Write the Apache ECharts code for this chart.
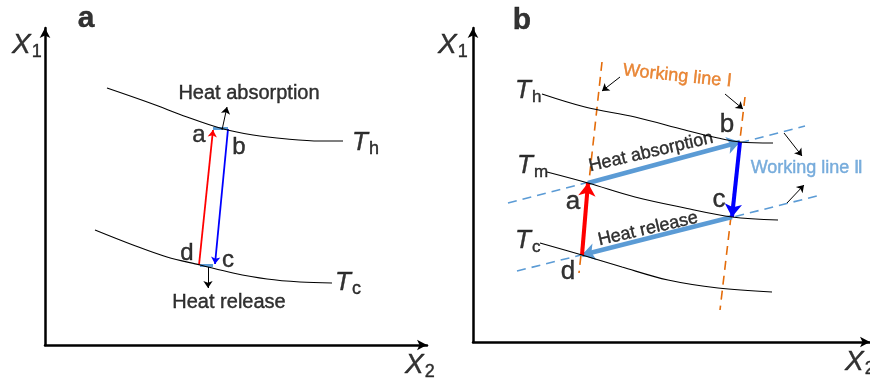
<!DOCTYPE html>
<html><head><meta charset="utf-8">
<script src="https://cdn.jsdelivr.net/npm/echarts@6/dist/echarts.min.js"></script>
<style>html,body{margin:0;padding:0;background:#fff}#c{width:870px;height:382px}</style>
</head><body><div id="c"></div>
<script>
// ---------- Panel a (coordinates in diagram units: [X2, X1]) ----------
const aThCurve = [[62,257],[105,242],[142,228],[175,217],[208,210],[242,206],[275,204],[298,204]];
const aTcCurve = [[50,115],[88,100],[122,88],[155,80],[188,72],[222,66],[255,63],[287,62]];
const aRedArrow = [[154,80],[168,215]];          // d -> a
const aBlueArrow = [[183,216],[170,81]];         // b -> c
const aHeatSegs = [[[168,217],[183,217]], [[168,80],[155,80]]];
const aSmallArrows = [[[177,215],[182,238]], [[163,78],[163,57]]];
const aLabels = [['Heat absorption',204,252],['Heat release',184,43]];
const aPoints = [['a',154,210],['b',194,198],['c',183,85],['d',142,92]];
const aTemps = [['h',307,201],['c',290,61]];
const aPanel = ['a',41,326];
const aAxisNames = [['1',-33,299],['2',360,-21]];

// ---------- Panel b ----------
const bThCurve = [[69,248],[112,235],[162,225],[212,212],[245,204],[267,200],[300,199]];
const bTmCurve = [[74,170],[115,159],[162,145],[212,134],[259,125],[305,122]];
const bTcCurve = [[67,99],[109,87],[149,75],[195,62],[245,54],[299,50]];
const bWorkI = [[[129,280],[106,69]], [[272,245],[247,32]]];
const bWorkII = [[[44,71],[344,146]], [[35,139],[332,216]]];
const bAbsorb = [[115,159],[267,200]];   // a -> b
const bRelease = [[259,125],[109,87]];   // c -> d
const bRed = [[109,87],[115,159]];       // d -> a
const bBlue = [[267,200],[259,125]];     // b -> c
const bSmallArrows = [[[147,265],[129,251]], [[252,248],[270,233]], [[311,209],[329,186]], [[314,139],[331,157]]];
const bLabels = [['Heat absorption',178,190,13],['Heat release',175,113,13]];
const bWorkLabels = [['Working line Ⅰ',204,266,-6],['Working line Ⅱ',334,174,0]];
const bPoints = [['a',100,140],['b',254,217],['c',246,142],['d',95,70]];
const bTemps = [['h',42,250],['m',44,175],['c',42,100]];
const bPanel = ['b',49,321];
const bAxisNames = [['1',-35,296],['2',372,-21]];

const FONT = '"Liberation Sans", Arial, sans-serif';
const LBLUE = '#5B9BD5', ORANGE = '#E46C0A';

function axesFor(i, w, h) {
  const ax = (max) => ({
    type:'value', gridIndex:i, min:0, max:max,
    axisLine:{show:true, onZero:false, symbol:['none','arrow'], symbolSize:[8,10], lineStyle:{color:'#000', width:2.5}},
    axisTick:{show:false}, axisLabel:{show:false}, splitLine:{show:false}
  });
  return {x: ax(w), y: ax(h)};
}
function curve(i, data) {
  return {type:'line', xAxisIndex:i, yAxisIndex:i, data:data, smooth:0.35, showSymbol:false, silent:true,
    lineStyle:{color:'#000', width:1.1}};
}
function segs(i, list, color, width, arrow, asize, dashed) {
  return {type:'lines', coordinateSystem:'cartesian2d', xAxisIndex:i, yAxisIndex:i, silent:true,
    symbol: arrow ? ['none','arrow'] : ['none','none'], symbolSize: asize || 8,
    lineStyle:{color:color, width:width, type: dashed ? [9,6] : 'solid', opacity:1},
    data: list.map(c => ({coords:c}))};
}
function texts(i, items) {
  return {type:'scatter', xAxisIndex:i, yAxisIndex:i, symbolSize:0, clip:false, silent:true,
    data: items.map(it => {
      const col = (it.s && it.s.color) || '#000';
      return {value:[it.x,it.y], label:Object.assign({show:true, position:'inside', fontFamily:FONT, color:col,
        textBorderColor:col, textBorderWidth:0.4, formatter:it.t}, it.s)};
    })};
}
const subRich = (big, small, pad) => ({
  t:{fontStyle:'italic', fontSize:big, fontFamily:FONT, color:'#000', textBorderColor:'#000', textBorderWidth:0.4, verticalAlign:'top', lineHeight:big+2},
  s:{fontSize:small, fontFamily:FONT, color:'#000', textBorderColor:'#000', textBorderWidth:0.4, verticalAlign:'bottom', lineHeight:small+2, padding:[pad,0,0,1]}
});

const A = axesFor(0, 382, 317), B = axesFor(1, 397, 314);

const aText = [];
aLabels.forEach(l => aText.push({t:l[0], x:l[1], y:l[2], s:{fontSize:20}}));
aPoints.forEach(l => aText.push({t:l[0], x:l[1], y:l[2], s:{fontSize:24}}));
aTemps.forEach(l => aText.push({t:'{t|T}{s|'+l[0]+'}', x:l[1], y:l[2], s:{align:'left', rich:subRich(26,18,17)}}));
aAxisNames.forEach(l => aText.push({t:'{t|X}{s|'+l[0]+'}', x:l[1], y:l[2], s:{align:'left', rich:subRich(28,18,13)}}));
aText.push({t:aPanel[0], x:aPanel[1], y:aPanel[2], s:{fontSize:30, fontWeight:'bold'}});

const bText = [];
bLabels.forEach(l => bText.push({t:l[0], x:l[1], y:l[2], s:{fontSize:18, rotate:l[3]}}));
bWorkLabels.forEach((l,k) => bText.push({t:l[0], x:l[1], y:l[2], s:{fontSize:18, rotate:l[3], color: k===0 ? ORANGE : LBLUE}}));
bPoints.forEach(l => bText.push({t:l[0], x:l[1], y:l[2], s:{fontSize:26}}));
bTemps.forEach(l => bText.push({t:'{t|T}{s|'+l[0]+'}', x:l[1], y:l[2], s:{align:'left', rich:subRich(26,17,17)}}));
bAxisNames.forEach(l => bText.push({t:'{t|X}{s|'+l[0]+'}', x:l[1], y:l[2], s:{align:'left', rich:subRich(28,18,13)}}));
bText.push({t:bPanel[0], x:bPanel[1], y:bPanel[2], s:{fontSize:30, fontWeight:'bold'}});

const option = {
  animation:false,
  backgroundColor:'#fff',
  grid:[
    {left:45, top:28, width:382, height:317},
    {left:473, top:28, width:397, height:314}
  ],
  xAxis:[A.x, Object.assign(B.x,{gridIndex:1})],
  yAxis:[A.y, Object.assign(B.y,{gridIndex:1})],
  series:[
    curve(0, aThCurve), curve(0, aTcCurve),
    segs(0, aHeatSegs, LBLUE, 3, false),
    segs(0, [aRedArrow], '#FF0000', 1.8, true, 7),
    segs(0, [aBlueArrow], '#0000FF', 1.8, true, 7),
    segs(0, aSmallArrows, '#000', 1, true, 7),
    texts(0, aText),

    curve(1, bThCurve), curve(1, bTmCurve), curve(1, bTcCurve),
    segs(1, bWorkI, ORANGE, 1.6, false, 0, true),
    segs(1, bWorkII, LBLUE, 1.6, false, 0, true),
    segs(1, [bAbsorb, bRelease], LBLUE, 4.5, true, 13),
    segs(1, [bRed], '#FF0000', 4, true, 13),
    segs(1, [bBlue], '#0000FF', 4, true, 13),
    segs(1, bSmallArrows, '#000', 1, true, 7),
    texts(1, bText)
  ]
};
const chart = echarts.init(document.getElementById('c'), null, {renderer:'canvas'});
chart.setOption(option);
</script>
</body></html>
